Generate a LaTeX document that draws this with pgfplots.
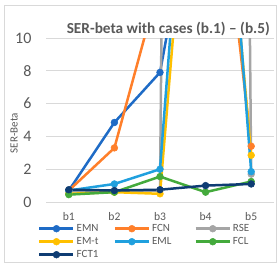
\documentclass[border=0pt]{standalone}
\usepackage{pgfplots}
\pgfplotsset{compat=1.18}
\usepackage{fontspec}
\setmainfont{Carlito}
\definecolor{cEMN}{HTML}{1E6BC6}
\definecolor{cFCN}{HTML}{FF7F2A}
\definecolor{cRSE}{HTML}{A5A5A5}
\definecolor{cEMt}{HTML}{FFC000}
\definecolor{cEML}{HTML}{20A0DE}
\definecolor{cFCL}{HTML}{44AA3C}
\definecolor{cFCT}{HTML}{0E3C73}
\definecolor{txt}{HTML}{595959}
\definecolor{grd}{HTML}{D9D9D9}
\begin{document}
\begin{tikzpicture}
\useasboundingbox (0,0) rectangle (279pt,266pt);
\draw[grd, line width=0.8pt] (4pt,4pt) rectangle (276pt,261pt);
\begin{axis}[
  at={(46pt,64pt)}, anchor=south west,
  scale only axis, width=228pt, height=164pt,
  xmin=-0.5, xmax=4.5, ymin=0, ymax=10,
  xtick={0,1,2,3,4}, xticklabels={b1,b2,b3,b4,b5},
  ytick={0,2,4,6,8,10},
  axis line style={draw=none},
  major tick length=0pt,
  ymajorgrids, grid style={grd, line width=0.8pt},
  /pgf/number format/assume math mode=true,
  yticklabel style={font=\fontsize{16}{18}\selectfont, text=txt, xshift=-11pt},
  xticklabel style={font=\fontsize{11.6}{14}\selectfont, text=txt, yshift=-7pt},
  ylabel={SER-Beta},
  ylabel style={font=\fontsize{11}{13}\selectfont, text=txt, at={(axis description cs:-0.14,0.42)}, anchor=center},
  every axis plot/.append style={line width=2.5pt, mark=*, mark size=3.4pt, mark options={solid, line width=0.5pt}},
  legend columns=3,
  legend cell align=left,
  legend image code/.code={\draw[mark repeat=2,mark phase=2,#1] plot coordinates {(0pt,0pt) (17pt,0pt) (34pt,0pt)};},
  legend style={draw=none, fill=none, inner sep=0pt, row sep=0pt,
    at={(axis description cs:-0.035,-0.122)}, anchor=north west,
    font=\fontsize{11}{13}\selectfont, text=txt,
    nodes={text height=8pt, text depth=2.5pt, inner ysep=1.25pt},
    /tikz/column 2/.style={column sep=13pt},
    /tikz/column 4/.style={column sep=21pt}},
]
\addplot[color=cEMN] coordinates {(0,0.7) (1,4.85) (2,7.9) (3,23) (4,30)};
\addlegendentry{EMN}
\addplot[color=cFCN] coordinates {(0,0.7) (1,3.3) (2,13.5) (3,28) (4,3.4)};
\addlegendentry{FCN}
\addplot[color=cRSE] coordinates {(0,0.65) (1,0.65) (2,0.7) (3,300) (4,1.7)};
\addlegendentry{RSE}
\addplot[color=cEMt] coordinates {(0,0.5) (1,0.6) (2,0.5) (3,34) (4,2.85)};
\addlegendentry{EM-t}
\addplot[color=cEML] coordinates {(0,0.7) (1,1.1) (2,2.0) (3,38) (4,1.85)};
\addlegendentry{EML}
\addplot[color=cFCL] coordinates {(0,0.45) (1,0.6) (2,1.55) (3,0.6) (4,1.25)};
\addlegendentry{FCL}
\addplot[color=cFCT] coordinates {(0,0.75) (1,0.7) (2,0.75) (3,1.0) (4,1.1)};
\addlegendentry{FCT1}
\end{axis}
\node[anchor=east, inner sep=0pt, text=txt, font=\bfseries\fontsize{15.3}{18}\selectfont] at (270pt,237pt) {SER-beta with cases (b.1) -- (b.5)};
\end{tikzpicture}
\end{document}
